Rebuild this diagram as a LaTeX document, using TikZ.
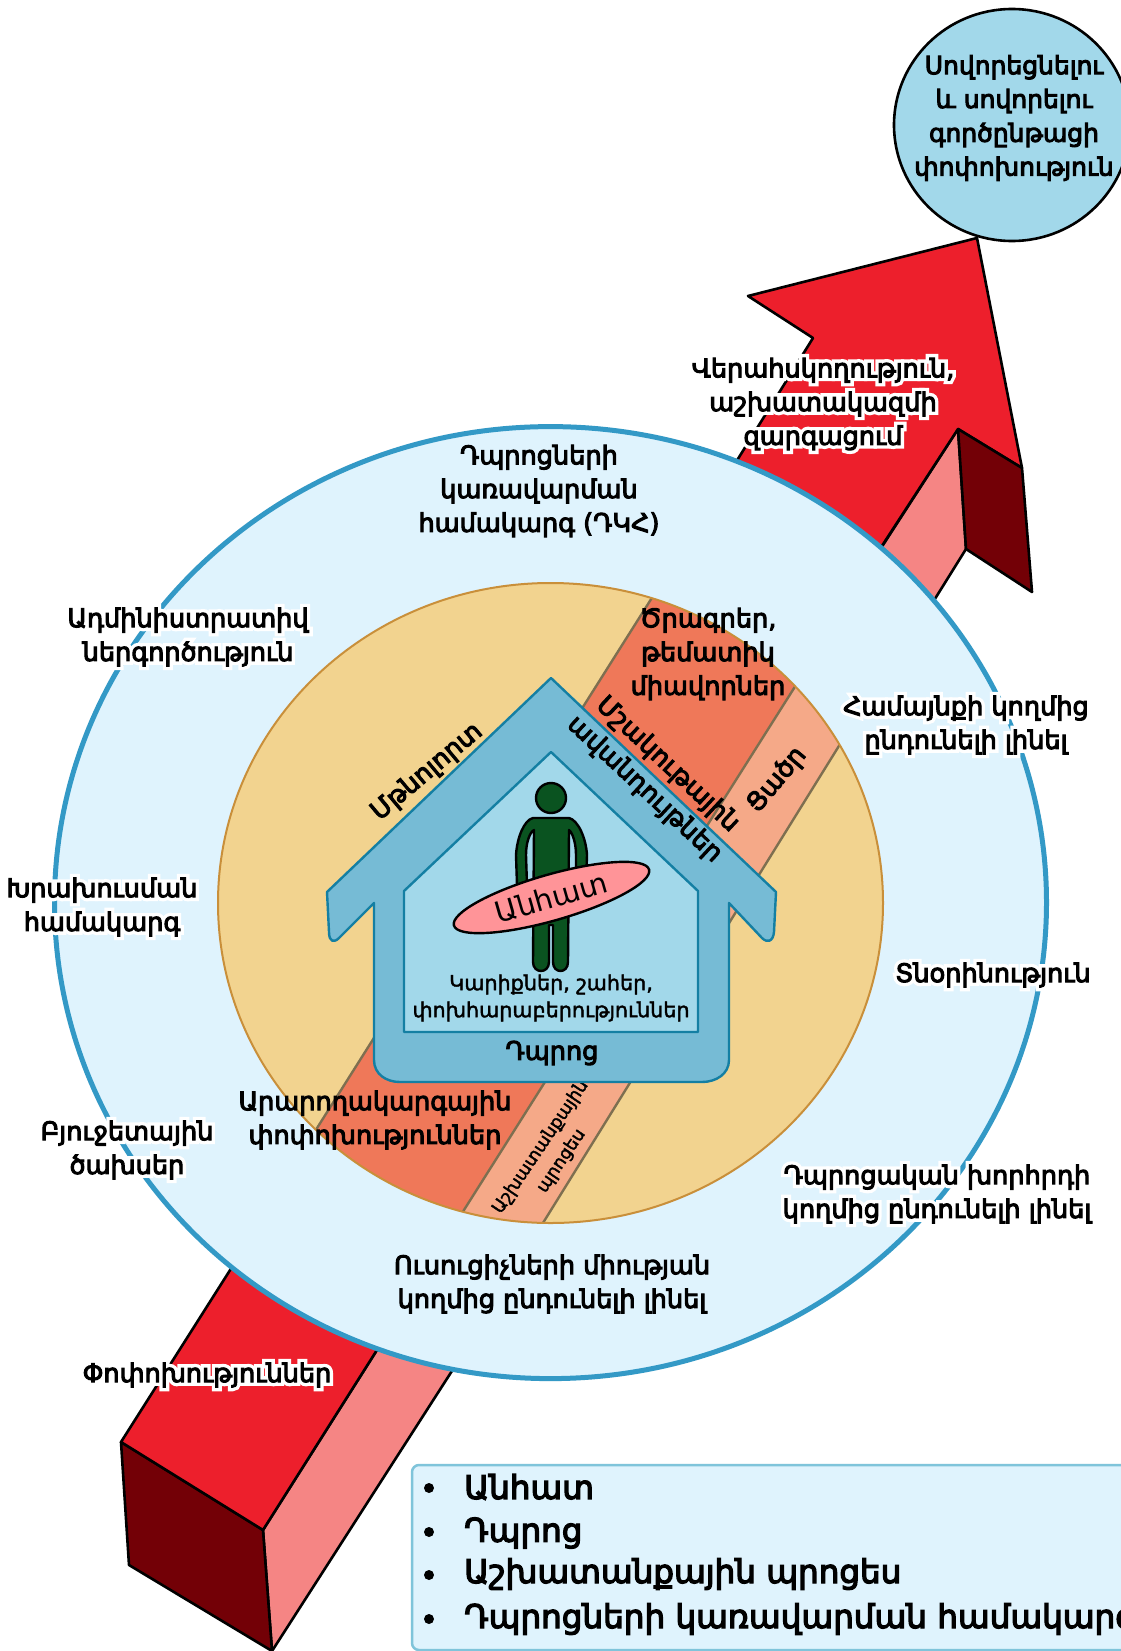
\documentclass[tikz,border=0pt]{standalone}
\usepackage{fontspec}
\setmainfont{DejaVu Sans}
\newfontfamily\armb{DejaVu Sans}[FakeBold=4]
\newfontfamily\armm{DejaVu Sans}[FakeBold=2]
\newfontfamily\armhalo{DejaVu Sans}[FakeBold=30]
\usetikzlibrary{shapes.geometric}
\definecolor{redA}{HTML}{ED1F2C}
\definecolor{pinkA}{HTML}{F58584}
\definecolor{darkA}{HTML}{730006}
\definecolor{skyA}{HTML}{A2D8EA}
\definecolor{paleA}{HTML}{DFF3FD}
\definecolor{ringA}{HTML}{3399C6}
\definecolor{sandA}{HTML}{F2D38F}
\definecolor{sandB}{HTML}{C98F3A}
\definecolor{bandA}{HTML}{EF7859}
\definecolor{bandB}{HTML}{F5A988}
\definecolor{bandL}{HTML}{7E6F50}
\definecolor{houseA}{HTML}{76BBD5}
\definecolor{houseB}{HTML}{147FA3}
\definecolor{greenA}{HTML}{0A5320}
\definecolor{boardA}{HTML}{FF9498}
\definecolor{legendB}{HTML}{7FC4DA}
\newcommand{\hl}[1]{\leavevmode\rlap{\armhalo\color{white}#1}#1}
\tikzset{
  arrowpart/.style={draw=black,line width=2.6pt,line join=round},
  lab/.style={inner sep=0pt,align=center,font=\armb\fontsize{25.6}{33.8}\selectfont},
  labS/.style={inner sep=0pt,align=center,font=\armm\fontsize{20.7}{27}\selectfont},
  labT/.style={inner sep=0pt,align=center,font=\armm\fontsize{17.5}{25}\selectfont},
  legitem/.style={inner sep=0pt,anchor=west,font=\armb\fontsize{32.6}{36}\selectfont},
  bul/.style={circle,fill=black,inner sep=0pt,minimum size=10pt},
  bandline/.style={draw=bandL,line width=2.4pt},
}
\begin{document}
\begin{tikzpicture}[x=1pt,y=-1pt]
\useasboundingbox (0,0) rectangle (1121,1651);
\fill[white] (0,0) rectangle (1121,1651);
% lower arrow
\path[arrowpart,fill=pinkA] (263,1530) -- (272,1651) -- (450,1374) -- (490,1312) -- (420,1282) -- cycle;
\path[arrowpart,fill=darkA] (121,1442) -- (129,1565) -- (272,1651) -- (263,1530) -- cycle;
\path[arrowpart,fill=redA] (121,1442) -- (263,1530) -- (420,1282) -- (265,1215) -- cycle;
% upper arrow
\path[arrowpart,fill=pinkA] (958,429) -- (966,549) -- (900,655) -- (820,600) -- (883,545) -- cycle;
\path[arrowpart,fill=redA] (977,238) -- (748,296) -- (813,338) -- (700,520) -- (850,595) -- (958,429) -- (1022,468) -- cycle;
\path[arrowpart,fill=darkA] (958,429) -- (1022,468) -- (1032,592) -- (966,549) -- cycle;
% target circle
\path[draw=black,line width=2.6pt,fill=skyA] (1012,125) ellipse [x radius=118pt,y radius=116pt];
% rings
\path[draw=ringA,line width=5pt,fill=paleA] (550.5,902.6) ellipse [x radius=496pt,y radius=476pt];
\path[fill=sandA] (550.5,903) ellipse [x radius=332.5pt,y radius=320pt];
\begin{scope}
\clip (550.5,903) ellipse [x radius=332.5pt,y radius=320pt];
\fill[bandA] (672,566) -- (815,655) -- (445,1240) -- (300,1155) -- cycle;
\fill[bandB] (815,655) -- (860,712) -- (520,1260) -- (445,1240) -- cycle;
\path[bandline] (672,566) -- (300,1155);
\path[bandline] (815,655) -- (445,1240);
\path[bandline] (860,712) -- (520,1260);
\end{scope}
\path[draw=sandB,line width=2pt] (550.5,903) ellipse [x radius=332.5pt,y radius=320pt];
\node[labT,rotate=56] (process) at (551,1154) {Աշխատանքային\\պրոցես};
% house
\path[draw=houseB,line width=2.4pt,fill=houseA,line join=round]
  (551,678) -- (776,892) -- (774,932) .. controls (773,942) and (767,943) .. (762,938)
  -- (729,903) -- (729,1060) .. controls (729,1074) and (716,1082) .. (702,1082)
  -- (400,1082) .. controls (386,1082) and (374,1074) .. (374,1060)
  -- (374,903) -- (339,938) .. controls (334,943) and (329,942) .. (329,932) -- (327,892) -- cycle;
\path[draw=houseB,line width=2.4pt,fill=skyA,line join=round]
  (551,752) -- (698,891) -- (698,1032) -- (404,1032) -- (404,891) -- cycle;
% person
\path[draw=black,line width=2.4pt,fill=greenA] (551,798) circle (15pt);
\path[draw=black,line width=2.4pt,fill=greenA,line join=round]
  (533,818) -- (569,818) .. controls (578,820) and (586,838) .. (587,855) -- (586,885) -- (576,885)
  -- (576,855) .. controls (576,842) and (572,832) .. (569,830) -- (568,962)
  .. controls (568,974) and (553,974) .. (553,962) -- (553,925) -- (549,925) -- (549,962)
  .. controls (549,974) and (533,974) .. (533,962) -- (534,830)
  .. controls (530,832) and (526,842) .. (526,855) -- (527,885) -- (517,885) -- (516,855)
  .. controls (517,838) and (524,820) .. (533,818) -- cycle;
\node[ellipse,rotate=16,draw=black,line width=2.4pt,fill=boardA,minimum width=203pt,minimum height=46pt,inner sep=0pt,font=\fontsize{29}{30}\selectfont] (board) at (551.5,897.5) {Անհատ};
% labels
\node[labS] (needs) at (551,998) {Կարիքներ, շահեր,\\փոխհարաբերություններ};
\node[lab] (school) at (552,1053) {Դպրոց};
\node[lab,font=\armb\fontsize{25}{33.8}\selectfont] (target) at (1014,118) {Սովորեցնելու\\և սովորելու\\գործընթացի\\փոփոխություն};
\node[lab] (superv) at (823,404) {\hl{Վերահսկողություն,}\\\hl{աշխատակազմի}\\\hl{զարգացում}};
\node[lab] (gov) at (539,491) {Դպրոցների\\կառավարման\\համակարգ (ԴԿՀ)};
\node[lab] (admin) at (188,637) {\hl{Ադմինիստրատիվ}\\\hl{ներգործություն}};
\node[lab] (reward) at (102,907) {\hl{Խրախուսման}\\\hl{համակարգ}};
\node[lab] (budget) at (127,1150) {\hl{Բյուջետային}\\\hl{ծախսեր}};
\node[lab] (comm) at (966,725) {\hl{Համայնքի կողմից}\\\hl{ընդունելի լինել}};
\node[lab] (princ) at (993,975) {\hl{Տնօրինություն}};
\node[lab] (council) at (937,1194) {\hl{Դպրոցական խորհրդի}\\\hl{կողմից ընդունելի լինել}};
\node[lab] (union) at (552,1284) {Ուսուցիչների միության\\կողմից ընդունելի լինել};
\node[lab] (changes) at (207,1375) {\hl{Փոփոխություններ}};
\node[lab] (ritual) at (375,1120) {Արարողակարգային\\փոփոխություններ};
\node[lab] (units) at (708,654) {Ծրագրեր,\\թեմատիկ\\միավորներ};
\node[lab,rotate=50] (low) at (777,780) {Ցածր};
\node[lab,rotate=40] (climate) at (427,772) {Մթնոլորտ};
\node[lab,rotate=-43] (culture) at (656,777) {Մշակութային\\ավանդույթներ};
% legend
\path[draw=legendB,line width=2.5pt,fill=paleA,rounded corners=7pt] (412,1465) rectangle (1160,1650);
\node[bul] (b1) at (429,1488) {};
\node[bul] (b2) at (429,1532) {};
\node[bul] (b3) at (429,1575) {};
\node[bul] (b4) at (429,1619) {};
\node[legitem] (l1) at (464,1487) {Անհատ};
\node[legitem] (l2) at (464,1533) {Դպրոց};
\node[legitem] (l3) at (464,1574) {Աշխատանքային պրոցես};
\node[legitem] (l4) at (464,1619) {Դպրոցների կառավարման համակարգ};
\end{tikzpicture}
\end{document}
